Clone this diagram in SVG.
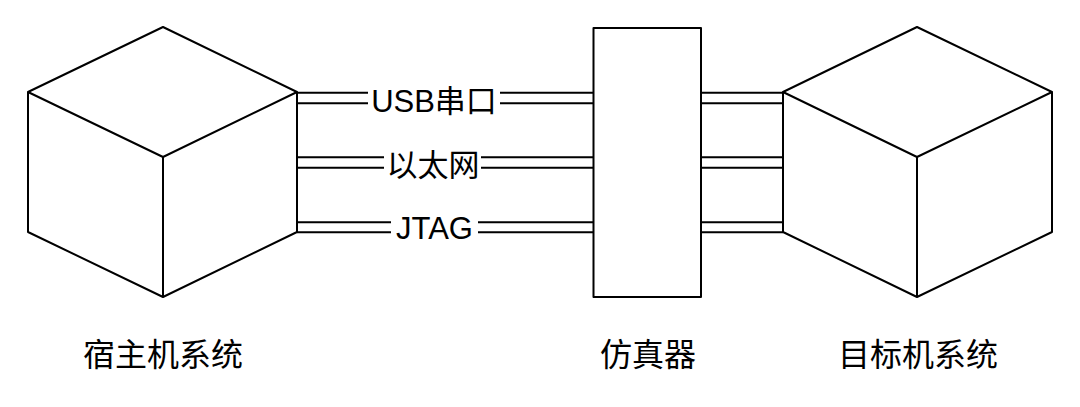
<svg xmlns="http://www.w3.org/2000/svg" width="1080" height="407" viewBox="0 0 1080 407">
<style>
.edge{fill:none;stroke:#000;stroke-width:2;stroke-linejoin:round}
.cube{fill:#fff;stroke:#000;stroke-width:2;stroke-linejoin:round}
.lbl{font-family:"Liberation Sans","Noto Sans CJK SC",sans-serif;font-size:31px;fill:#000;text-anchor:middle}
.cap{font-family:"Liberation Sans","Noto Sans CJK SC",sans-serif;font-size:32px;fill:#000;text-anchor:middle}
.bg{fill:#fff}
</style>
<rect width="1080" height="407" fill="#fff"/>
<g id="connectors">
  <path class="edge" d="M297,92.7H593M297,103.3H593"/>
  <path class="edge" d="M297,157.3H593M297,167.7H593"/>
  <path class="edge" d="M297,222.3H593M297,232.3H593"/>
  <path class="edge" d="M701,92.7H783M701,103.3H783"/>
  <path class="edge" d="M701,157.3H783M701,167.7H783"/>
  <path class="edge" d="M701,222.3H783M701,232.3H783"/>
  <rect class="bg" x="368" y="85" width="132" height="30"/>
  <text class="lbl" x="434" y="112">USB串口</text>
  <rect class="bg" x="384" y="148" width="97" height="32"/>
  <text class="lbl" x="433" y="176">以太网</text>
  <rect class="bg" x="391" y="214" width="87" height="28"/>
  <text class="lbl" x="434.5" y="239">JTAG</text>
</g>
<g id="host">
  <path class="cube" d="M163,27L297,92V232L163,297L28,232V92Z"/>
  <path class="edge" d="M28,92L163,157L297,92M163,157V297"/>
  <text class="cap" x="163" y="366">宿主机系统</text>
</g>
<g id="emulator">
  <rect class="cube" x="593.5" y="28" width="107.5" height="269"/>
  <text class="cap" x="648" y="366">仿真器</text>
</g>
<g id="target">
  <path class="cube" d="M917,27L1052,92V232L917,297L783,232V92Z"/>
  <path class="edge" d="M783,92L917,157L1052,92M917,157V297"/>
  <text class="cap" x="918" y="366">目标机系统</text>
</g>
</svg>
